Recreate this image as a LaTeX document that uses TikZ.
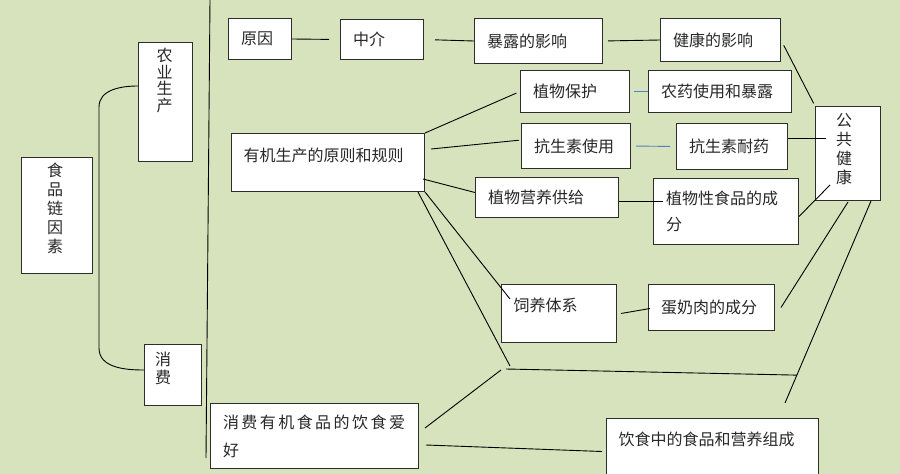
\documentclass[tikz,border=0pt]{standalone}
\usepackage{fontspec}
\usepackage{tikz}
\usetikzlibrary{positioning, calc}
\newfontfamily\cjk{Noto Sans CJK SC}
\definecolor{bggreen}{RGB}{215,227,189}
\definecolor{boxline}{RGB}{45,45,45}
\definecolor{linkblue}{RGB}{79,129,189}
\definecolor{textgray}{RGB}{40,40,40}
\tikzset{
  box/.style={
    rectangle, draw=boxline, line width=1pt, fill=white,
    anchor=north west, inner xsep=12.5pt, inner ysep=0pt, align=left,
    font=\cjk\fontsize{16}{26}\selectfont, text=textgray
  },
  vtxt/.style={font=\cjk\fontsize{16}{19}\selectfont, text=textgray,
    inner sep=0pt, align=center},
  toptxt/.style={font=\cjk\fontsize{16}{26}\selectfont, text=textgray,
    inner sep=0pt, anchor=west},
  ln/.style={draw=black, line width=0.9pt},
  bln/.style={draw=linkblue, line width=0.9pt}
}

\begin{document}
\begin{tikzpicture}[x=1pt, y=-1pt]
  \useasboundingbox (0,0) rectangle (900,474);
  \fill[bggreen] (0,0) rectangle (900,474);

  % left part
  \node[box, minimum width=71pt, minimum height=116pt] (food) at (21,157) {};
  \node[box, minimum width=54pt, minimum height=119pt] (agri) at (138,42) {};
  \node[box, minimum width=57pt, minimum height=61pt]  (cons) at (144,344) {};
  \node[vtxt, anchor=north] (food-t) at ([shift={(-2,6)}]food.north) {食\\品\\链\\因\\素};
  \node[vtxt, anchor=north, font=\cjk\fontsize{16}{16.5}\selectfont] (agri-t)
        at ([shift={(-1,6)}]agri.north) {农\\业\\生\\产};
  \node[vtxt, anchor=north west, font=\cjk\fontsize{16}{18}\selectfont] (cons-t)
        at ([shift={(11,8)}]cons.north west) {消\\费};
  \draw[ln] ([yshift=16pt]agri.west) to[out=180, in=90] (99,107) -- (99,348)
            to[out=-90, in=180] ([yshift=5pt]cons.west);
  \draw[ln] (210,0) -- (206,458);

  % top row
  \node[box, text width=38pt,  minimum height=41pt] (cause) at (228,18) {原因};
  \node[box, text width=58pt,  minimum height=40pt] (medi)  at (340,19) {中介};
  \node[box, text width=103pt, minimum height=45pt] (expo)  at (474,18) {暴露的影响};
  \node[box, text width=95pt,  minimum height=43pt] (heal)  at (660,18) {健康的影响};

  % organic production
  \node[box, minimum width=193pt, minimum height=58pt] (organic) at (231,133) {};
  \node[toptxt] (organic-t) at ([shift={(12.5,22)}]organic.north west) {有机生产的原则和规则};
  \node[box, text width=84pt,  minimum height=42pt] (plantprot) at (520,70)  {植物保护};
  \node[box, text width=118pt, minimum height=42pt] (pest)      at (648,70)  {农药使用和暴露};
  \node[box, text width=84pt,  minimum height=45pt] (abuse)     at (521,123) {抗生素使用};
  \node[box, text width=86pt,  minimum height=46pt] (ares)      at (676,123) {抗生素耐药};
  \node[box, text width=118pt, minimum height=40pt] (nutr)      at (475,177) {植物营养供给};
  \node[box, text width=120pt, minimum height=66pt] (plantfood) at (653,178) {植物性食品的成\\分};
  \node[box, minimum width=115pt, minimum height=58pt] (feed) at (501,284) {};
  \node[toptxt] (feed-t) at ([shift={(12.5,21)}]feed.north west) {饲养体系};
  \node[box, text width=101pt, minimum height=46pt] (egg) at (648,284) {蛋奶肉的成分};

  % public health
  \node[box, minimum width=65pt, minimum height=94pt] (public) at (815,106) {};
  \node[vtxt, anchor=north] (public-t) at ([shift={(-4,7)}]public.north) {公\\共\\健\\康};

  % consumption
  \node[box, text width=183pt, minimum height=65pt, font=\cjk\fontsize{16}{28}\selectfont] (pref)
        at (210,403) {\makebox[182pt][l]{消\hfill 费\hfill 有\hfill 机\hfill 食\hfill 品\hfill 的\hfill 饮\hfill 食\hfill 爱}\\好};
  \node[box, minimum width=212pt, minimum height=58pt] (diet) at (606,418) {};
  \node[toptxt] (diet-t) at ([shift={(12.5,21)}]diet.north west) {饮食中的食品和营养组成};

  \coordinate (junc)   at (506,369);
  \coordinate (pubend) at (785,403);
  \coordinate (cross)  at ($([xshift=-10pt]public.south east)!0.862!(pubend)$);

  \draw[ln, shorten >=11pt] (cause.east) -- (medi.west);
  \draw[ln, shorten <=11pt] (medi.east) -- (expo.west);
  \draw[ln, shorten <=5pt]  (expo.east) -- (heal.west);
  \draw[ln, shorten <=6pt, shorten >=3pt] (heal.east) -- (public.north west);

  \draw[ln, shorten >=4pt] (organic.north east) -- (plantprot.west);
  \draw[bln, shorten <=4pt] (plantprot.east) -- (pest.west);
  \draw[ln, shorten >=2pt] ([shift={(6,16)}]organic.north east) -- ([yshift=6pt]abuse.west);
  \draw[bln, shorten <=5pt, shorten >=6pt] (abuse.east) -- (ares.west);
  \draw[ln] ([yshift=8pt]ares.east) -- ++(38,0);
  \draw[ln] ([shift={(-2,-13)}]organic.south east) -- ([yshift=5pt]nutr.west);
  \draw[ln] ([yshift=-4pt]nutr.east) -- ++(44,0);
  \draw[ln] ([yshift=-5pt]plantfood.east) -- ([shift={(15,-16)}]public.south west);
  \draw[ln] (organic.south east) -- ([shift={(9,15)}]feed.north west);
  \draw[ln] ([xshift=-7pt]organic.south east) -- ([shift={(4,-3)}]junc);
  \draw[ln] ([shift={(4,0)}]feed.east) -- ([shift={(2,1)}]egg.west);
  \draw[ln] ([xshift=6pt]egg.east) -- ([shift={(-33,1)}]public.south east);
  \draw[ln] ([xshift=-10pt]public.south east) -- (pubend);
  \draw[ln] (junc) -- (cross);
  \draw[ln] ([shift={(6,-8)}]pref.east) -- ([shift={(-5,1)}]junc);
  \draw[ln] ([shift={(7,9)}]pref.east) -- ([shift={(-4,4)}]diet.west);
\end{tikzpicture}
\end{document}
